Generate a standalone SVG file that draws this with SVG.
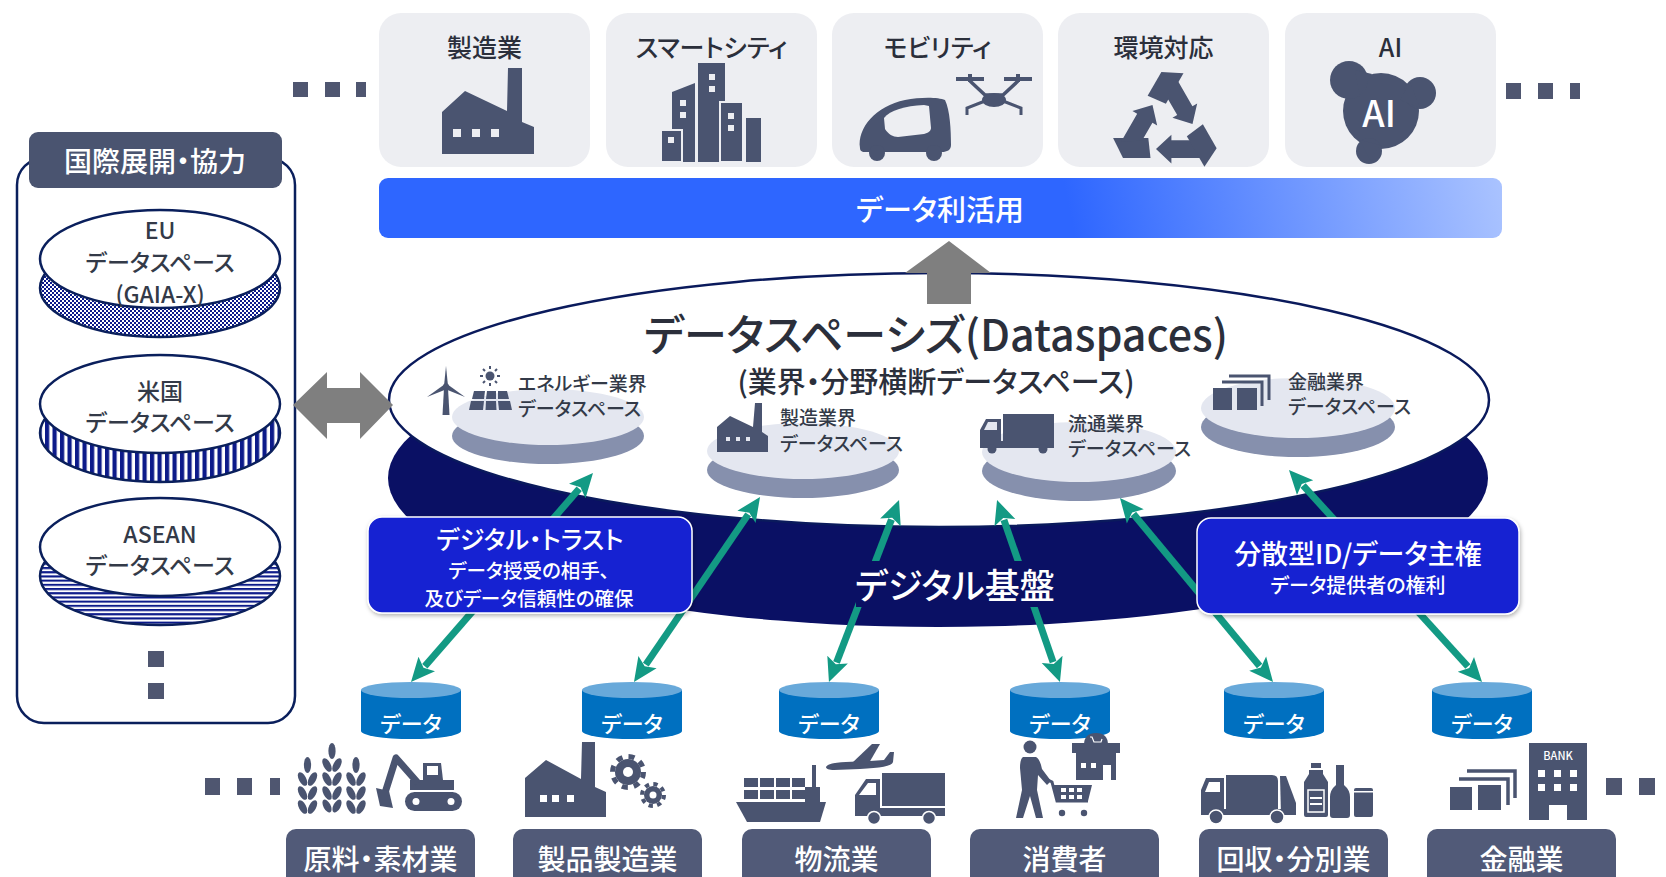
<svg xmlns="http://www.w3.org/2000/svg" width="1666" height="877" viewBox="0 0 1666 877">
<defs>
<style>
text{font-family:"Noto Sans CJK JP","Noto Sans",sans-serif;font-feature-settings:"palt";dominant-baseline:central;text-anchor:middle;font-weight:500}
.card{fill:#edeef2}
.ic{fill:#4a5470}
.ct{font-size:25px;fill:#2b2f3b}
.lbl{font-size:23px;fill:#333a48}
.dsl{font-size:19px;fill:#333a48;text-anchor:start}
.cat{fill:#515a78}
.catt{font-size:28px;fill:#fff}
.cyl{fill:#0070c0}
.cyltop{fill:#68a9da}
.cylt{font-size:22px;fill:#fff}
.dot{fill:#4f5670}
.ar{stroke:#139a84;stroke-width:7;fill:none;marker-start:url(#ah);marker-end:url(#ah)}
.box{fill:#1220d2;stroke:#fff;stroke-width:1.5;filter:url(#sh)}
.dtop{fill:#e4e7f0}
.dbot{fill:#8690ad}
.nv{stroke:#0a1f5c;stroke-width:2.5}
.bt{fill:#fff}
.win{fill:#edeef2}
.dw{fill:#e4e7f0}
</style>
<marker id="ah" viewBox="0 0 24 24" refX="3" refY="12" markerWidth="24" markerHeight="24" markerUnits="userSpaceOnUse" orient="auto-start-reverse">
<path d="M0,1 L24,12 L0,23 L5,12 Z" fill="#139a84"/>
</marker>
<filter id="sh" x="-10%" y="-10%" width="125%" height="135%">
<feDropShadow dx="1" dy="2" stdDeviation="2" flood-color="#000" flood-opacity="0.3"/>
</filter>
<linearGradient id="gb" gradientUnits="userSpaceOnUse" x1="1080" y1="260" x2="1500" y2="170">
<stop offset="0" stop-color="#2e66ff"/>
<stop offset="1" stop-color="#aac3ff"/>
</linearGradient>
<pattern id="pCheck" width="4" height="4" patternUnits="userSpaceOnUse">
<rect width="4" height="4" fill="#fff"/>
<rect width="2" height="2" fill="#0c1a8a"/>
<rect x="2" y="2" width="2" height="2" fill="#0c1a8a"/>
</pattern>
<pattern id="pVert" width="7.5" height="10" patternUnits="userSpaceOnUse">
<rect width="7.5" height="10" fill="#fff"/>
<rect width="4.2" height="10" fill="#0c1a8a"/>
</pattern>
<pattern id="pHorz" width="10" height="4.2" patternUnits="userSpaceOnUse">
<rect width="10" height="4.2" fill="#fff"/>
<rect width="10" height="2.1" fill="#0c1a8a"/>
</pattern>
<g id="stalk" class="ic">
<ellipse cx="0" cy="8" rx="3.6" ry="8"/>
<ellipse cx="-5" cy="22" rx="3.6" ry="7.5" transform="rotate(-28 -5 22)"/>
<ellipse cx="5" cy="22" rx="3.6" ry="7.5" transform="rotate(28 5 22)"/>
<ellipse cx="-5" cy="36" rx="3.6" ry="7.5" transform="rotate(-28 -5 36)"/>
<ellipse cx="5" cy="36" rx="3.6" ry="7.5" transform="rotate(28 5 36)"/>
<ellipse cx="-5" cy="50" rx="3.6" ry="7.5" transform="rotate(-28 -5 50)"/>
<ellipse cx="5" cy="50" rx="3.6" ry="7.5" transform="rotate(28 5 50)"/>
</g>
<g id="recy" class="ic">
<polygon points="-49,11 -17,11 -15,29 -40,29"/>
<polygon points="-10,21 4,8 4,13 23,13 33,29 4,29 4,34"/>
</g>
</defs>

<rect width="1666" height="877" fill="#fff"/>

<!-- top row: application domains -->
<g id="dots-top" class="dot">
<rect x="293" y="82" width="15" height="15"/><rect x="325" y="82" width="15" height="15"/><rect x="356" y="82" width="10" height="15"/>
<rect x="1506" y="83" width="15" height="16"/><rect x="1538" y="83" width="15" height="16"/><rect x="1570" y="83" width="10" height="16"/>
</g>

<g id="card-manufacturing">
<rect class="card" x="379" y="13" width="211" height="154" rx="22"/>
<text class="ct" x="484.5" y="46">製造業</text>
<path class="ic" d="M442,112 L465,91 L507,111 L508,68 L522,68 L522,122 L534,127 L534,154 L442,154 Z"/>
<rect class="win" x="453" y="129" width="8" height="8"/><rect class="win" x="472" y="129" width="8" height="8"/><rect class="win" x="491" y="129" width="8" height="8"/>
</g>

<g id="card-smartcity">
<rect class="card" x="606" y="13" width="211" height="154" rx="22"/>
<text class="ct" x="711.5" y="46">スマートシティ</text>
<polygon class="ic" points="672,92 695,83 695,162 672,162"/>
<rect class="ic" x="698" y="63" width="27" height="99"/>
<rect class="ic" x="720" y="102" width="23" height="60" stroke="#edeef2" stroke-width="2"/>
<rect class="ic" x="746" y="118" width="15" height="44"/>
<rect class="ic" x="661" y="130" width="21" height="32" stroke="#edeef2" stroke-width="2"/>
<rect class="win" x="709" y="74" width="6" height="6"/><rect class="win" x="709" y="86" width="6" height="6"/>
<rect class="win" x="680" y="100" width="6" height="6"/><rect class="win" x="680" y="112" width="6" height="6"/>
<rect class="win" x="728" y="113" width="6" height="6"/><rect class="win" x="728" y="125" width="6" height="6"/>
<rect class="win" x="668" y="137" width="6" height="6"/>
</g>

<g id="card-mobility">
<rect class="card" x="832" y="13" width="211" height="154" rx="22"/>
<text class="ct" x="937.5" y="46">モビリティ</text>
<path class="ic" d="M860,148 C857,128 876,106 905,100 C920,97 938,97 945,100 C950,110 951,130 951,145 C951,150 947,152 942,152 L865,152 C861,152 860,150 860,148 Z"/>
<circle class="ic" cx="877" cy="153" r="8"/><circle class="ic" cx="934" cy="153" r="8"/>
<path class="win" d="M884,118 C890,110 905,106 924,105 L929,106 L931,128 C931,131 928,133 924,134 L898,137 C893,137 888,134 885,129 Z"/>
<g class="ic">
<rect x="956" y="77" width="28" height="4"/><rect x="1004" y="77" width="28" height="4"/>
<rect x="968" y="74" width="4" height="8"/><rect x="1016" y="74" width="4" height="8"/>
<path d="M970,81 L985,95 L1003,95 L1018,81" fill="none" stroke="#4a5470" stroke-width="3.5"/>
<ellipse cx="994" cy="100" rx="12" ry="7"/>
<path d="M985,101 L967,108 L967,115 M1003,101 L1021,108 L1021,115" fill="none" stroke="#4a5470" stroke-width="3"/>
</g>
</g>

<g id="card-environment">
<rect class="card" x="1058" y="13" width="211" height="154" rx="22"/>
<text class="ct" x="1163.5" y="46">環境対応</text>
<use href="#recy" transform="translate(1167 126) scale(1.1)"/>
<use href="#recy" transform="translate(1167 126) scale(1.1) rotate(120)"/>
<use href="#recy" transform="translate(1167 126) scale(1.1) rotate(240)"/>
</g>

<g id="card-ai">
<rect class="card" x="1285" y="13" width="211" height="154" rx="22"/>
<text class="ct" x="1390.5" y="46">AI</text>
<g class="ic">
<circle cx="1381" cy="111" r="38"/>
<circle cx="1349" cy="80" r="19"/>
<circle cx="1420" cy="93" r="16"/>
<circle cx="1369" cy="151" r="13"/>
<path d="M1355,70 L1372,74 L1360,95 Z M1410,82 L1420,108 L1400,100 Z M1360,140 L1380,145 L1370,160 Z"/>
</g>
<text x="1379" y="111" font-size="36" font-weight="bold" fill="#fff">AI</text>
</g>

<g id="bar-utilization">
<rect x="379" y="178" width="1123" height="60" rx="9" fill="url(#gb)"/>
<text x="940" y="208" font-size="29" fill="#fff">データ利活用</text>
</g>

<!-- international cooperation panel -->
<g id="intl-panel">
<rect x="17" y="158" width="278" height="565" rx="27" fill="#fff" class="nv"/>
<rect x="29" y="132" width="253" height="56" rx="9" fill="#4a5470"/>
<text x="155" y="160" font-size="28" fill="#fff">国際展開・協力</text>
</g>
<g id="ds-eu">
<ellipse cx="160" cy="288" rx="120" ry="49" fill="url(#pCheck)" class="nv"/>
<ellipse cx="160" cy="259" rx="120" ry="49" fill="#fff" class="nv"/>
<text class="lbl" x="160" y="229">EU</text>
<text class="lbl" x="160" y="261">データスペース</text>
<text class="lbl" x="160" y="293">(GAIA-X)</text>
</g>
<g id="ds-us">
<ellipse cx="160" cy="433" rx="120" ry="49" fill="url(#pVert)" class="nv"/>
<ellipse cx="160" cy="404" rx="120" ry="49" fill="#fff" class="nv"/>
<text class="lbl" x="160" y="390">米国</text>
<text class="lbl" x="160" y="421">データスペース</text>
</g>
<g id="ds-asean">
<ellipse cx="160" cy="576" rx="120" ry="49" fill="url(#pHorz)" class="nv"/>
<ellipse cx="160" cy="547" rx="120" ry="49" fill="#fff" class="nv"/>
<text class="lbl" x="160" y="533">ASEAN</text>
<text class="lbl" x="160" y="564">データスペース</text>
</g>
<g id="dots-intl" class="dot">
<rect x="148" y="651" width="16" height="16"/><rect x="148" y="683" width="16" height="16"/>
</g>

<!-- digital foundation and dataspaces -->
<g id="digital-foundation">
<ellipse cx="938" cy="478" rx="550" ry="149" fill="#0a1064"/>
</g>
<g id="dataspaces">
<ellipse cx="939" cy="400" rx="550" ry="127" fill="#fff" stroke="#0a1a5c" stroke-width="2.5"/>
<text x="936" y="332" font-size="43" fill="#2b2f3b">データスペーシズ(Dataspaces)</text>
<text x="936" y="380" font-size="29" fill="#2b2f3b">(業界・分野横断データスペース)</text>
</g>

<g id="ds-energy">
<ellipse class="dbot" cx="548" cy="436" rx="96" ry="28"/>
<ellipse class="dtop" cx="548" cy="417" rx="96" ry="28"/>
<g class="ic">
<polygon points="444,388 448,388 449.5,415 442.5,415"/>
<polygon points="444,386 446,366 448,386"/>
<polygon points="445,384 427,397 447,389"/>
<polygon points="447,384 465,397 445,389"/>
<circle cx="446" cy="386" r="2.8"/>
<circle cx="490" cy="376" r="4.5"/>
<path d="M490,366 V369 M490,383 V386 M480,376 H483 M497,376 H500 M483,369 L485,371 M495,381 L497,383 M497,369 L495,371 M485,381 L483,383" stroke="#4a5470" stroke-width="2"/>
<polygon points="474,391 485,391 484,399 472,399"/>
<polygon points="487,391 496,391 496,399 486,399"/>
<polygon points="498,391 507,391 509,399 498,399"/>
<polygon points="471,401 484,401 483,410 469,410"/>
<polygon points="486,401 496,401 496.5,410 485.5,410"/>
<polygon points="498,401 510,401 512,410 499,410"/>
</g>
<text class="dsl" x="518" y="382">エネルギー業界</text>
<text class="dsl" x="518" y="407">データスペース</text>
</g>

<g id="ds-manufacturing">
<ellipse class="dbot" cx="803" cy="470" rx="96" ry="28"/>
<ellipse class="dtop" cx="803" cy="451" rx="96" ry="28"/>
<path class="ic" d="M717,427 L730,416 L753,427 L755,403 L762,403 L762,432 L768,436 L768,452 L717,452 Z"/>
<rect class="dw" x="726" y="437" width="4" height="4"/><rect class="dw" x="736" y="437" width="4" height="4"/><rect class="dw" x="746" y="437" width="4" height="4"/>
<text class="dsl" x="780" y="416">製造業界</text>
<text class="dsl" x="780" y="442">データスペース</text>
</g>

<g id="ds-logistics">
<ellipse class="dbot" cx="1079" cy="471" rx="97" ry="30"/>
<ellipse class="dtop" cx="1079" cy="452" rx="97" ry="30"/>
<g class="ic">
<rect x="1003" y="414" width="51" height="27"/>
<path d="M980,448 L980,430 L986,419 L1001,419 L1001,448 Z"/>
<rect x="980" y="441" width="74" height="7"/>
<circle cx="992" cy="449" r="4.5"/><circle cx="1043" cy="449" r="4.5"/>
</g>
<polygon class="dw" points="984,430 988,422 997,422 997,430"/>
<text class="dsl" x="1068" y="422">流通業界</text>
<text class="dsl" x="1068" y="447">データスペース</text>
</g>

<g id="ds-finance">
<ellipse class="dbot" cx="1298" cy="427" rx="97" ry="30"/>
<ellipse class="dtop" cx="1298" cy="408" rx="97" ry="30"/>
<g class="ic">
<rect x="1213" y="388" width="19" height="22"/>
<rect x="1237" y="388" width="20" height="22"/>
<path d="M1222,382 H1262 V406 M1229,376 H1269 V400" fill="none" stroke="#4a5470" stroke-width="3"/>
</g>
<text class="dsl" x="1288" y="380">金融業界</text>
<text class="dsl" x="1288" y="405">データスペース</text>
</g>

<!-- grey arrows -->
<g id="link-intl">
<polygon fill="#7f7f7f" points="293,405 327,372 327,388 360,388 360,372 393,405 360,439 360,423 327,423 327,439"/>
</g>
<g id="link-utilization">
<polygon fill="#7f7f7f" points="949,241 991,273 971,273 971,304 927,304 927,273 905,273"/>
</g>

<!-- data exchange connectors -->
<g id="connectors" class="ar">
<line x1="424.8" y1="666.2" x2="579.2" y2="488.8"/>
<line x1="645.8" y1="664.6" x2="748.2" y2="514.4"/>
<line x1="836.5" y1="662.4" x2="891.5" y2="519.6"/>
<line x1="1053.1" y1="662.2" x2="1003.9" y2="519.8"/>
<line x1="1259.6" y1="665.9" x2="1133.4" y2="514.1"/>
<line x1="1467.9" y1="666.5" x2="1303.1" y2="485.5"/>
</g>

<g id="label-foundation">
<rect x="856" y="561" width="198" height="46" fill="#0a1064"/>
<text x="955" y="583" font-size="35" fill="#fff">デジタル基盤</text>
</g>

<g id="box-trust">
<rect class="box" x="368" y="517" width="324" height="96" rx="14"/>
<text x="530" y="538" font-size="25" fill="#fff">デジタル・トラスト</text>
<text x="529" y="569" font-size="19.5" fill="#fff">データ授受の相手、</text>
<text x="529" y="597" font-size="19.5" fill="#fff">及びデータ信頼性の確保</text>
</g>
<g id="box-did">
<rect class="box" x="1197" y="518" width="322" height="96" rx="14"/>
<text x="1358" y="552" font-size="27" fill="#fff">分散型ID/データ主権</text>
<text x="1358" y="584" font-size="20" fill="#fff">データ提供者の権利</text>
</g>

<!-- data stores -->
<g id="data-1"><path class="cyl" d="M361,690 V731 A50,8 0 0 0 461,731 V690 Z"/><ellipse class="cyltop" cx="411" cy="690" rx="50" ry="8"/><text class="cylt" x="411" y="722">データ</text></g>
<g id="data-2"><path class="cyl" d="M582,690 V731 A50,8 0 0 0 682,731 V690 Z"/><ellipse class="cyltop" cx="632" cy="690" rx="50" ry="8"/><text class="cylt" x="632" y="722">データ</text></g>
<g id="data-3"><path class="cyl" d="M779,690 V731 A50,8 0 0 0 879,731 V690 Z"/><ellipse class="cyltop" cx="829" cy="690" rx="50" ry="8"/><text class="cylt" x="829" y="722">データ</text></g>
<g id="data-4"><path class="cyl" d="M1010,690 V731 A50,8 0 0 0 1110,731 V690 Z"/><ellipse class="cyltop" cx="1060" cy="690" rx="50" ry="8"/><text class="cylt" x="1060" y="722">データ</text></g>
<g id="data-5"><path class="cyl" d="M1224,690 V731 A50,8 0 0 0 1324,731 V690 Z"/><ellipse class="cyltop" cx="1274" cy="690" rx="50" ry="8"/><text class="cylt" x="1274" y="722">データ</text></g>
<g id="data-6"><path class="cyl" d="M1432,690 V731 A50,8 0 0 0 1532,731 V690 Z"/><ellipse class="cyltop" cx="1482" cy="690" rx="50" ry="8"/><text class="cylt" x="1482" y="722">データ</text></g>

<!-- industries -->
<g id="dots-bottom" class="dot">
<rect x="205" y="778" width="15" height="17"/><rect x="237" y="778" width="15" height="17"/><rect x="270" y="778" width="10" height="17"/>
<rect x="1606" y="778" width="16" height="17"/><rect x="1639" y="778" width="16" height="17"/>
</g>

<g id="ind-materials">
<use href="#stalk" x="307.5" y="757"/>
<use href="#stalk" x="332" y="743"/>
<use href="#stalk" x="356" y="757"/>
<g class="ic">
<ellipse cx="327" cy="806" rx="3.6" ry="7" transform="rotate(-28 327 806)"/>
<ellipse cx="337" cy="806" rx="3.6" ry="7" transform="rotate(28 337 806)"/>
<rect x="405" y="792" width="57" height="19" rx="9.5"/>
<rect x="410" y="780" width="44" height="10"/>
<path d="M423,780 L423,763 L441,763 L443,780 Z"/>
<polyline points="418,783 396,758 384,796" fill="none" stroke="#4a5470" stroke-width="7" stroke-linejoin="round"/>
<polygon points="376,788 389,791 393,808 380,806"/>
</g>
<rect class="bt" x="427" y="766" width="11" height="9"/>
<circle class="bt" cx="416" cy="801.5" r="3.5"/><circle class="bt" cx="451" cy="801.5" r="3.5"/>
<rect class="cat" x="286" y="829" width="189" height="60" rx="10"/>
<text class="catt" x="380.5" y="858">原料・素材業</text>
</g>

<g id="ind-products">
<path class="ic" d="M525,778 L546,760 L581,779 L582,742 L595,742 L595,787 L606,792 L606,817 L525,817 Z"/>
<rect class="bt" x="540" y="795" width="7" height="7"/><rect class="bt" x="552" y="795" width="7" height="7"/><rect class="bt" x="567" y="795" width="7" height="7"/>
<circle class="ic" cx="628" cy="772" r="13"/>
<circle cx="628" cy="772" r="15.5" fill="none" stroke="#4a5470" stroke-width="5" stroke-dasharray="6.09 6.09"/>
<circle class="bt" cx="628" cy="772" r="5"/>
<circle class="ic" cx="653" cy="795" r="9"/>
<circle cx="653" cy="795" r="11" fill="none" stroke="#4a5470" stroke-width="4" stroke-dasharray="4.32 4.32"/>
<circle class="bt" cx="653" cy="795" r="3.5"/>
<rect class="cat" x="513" y="829" width="189" height="60" rx="10"/>
<text class="catt" x="607.5" y="858">製品製造業</text>
</g>

<g id="ind-logistics">
<g class="ic">
<polygon points="736,802 826,802 820,822 747,822"/>
<rect x="812" y="765" width="4" height="37"/>
<rect x="805" y="787" width="15" height="15"/>
<rect x="744" y="778" width="14" height="9"/><rect x="760" y="778" width="14" height="9"/><rect x="776" y="778" width="14" height="9"/><rect x="792" y="778" width="13" height="9"/>
<rect x="744" y="790" width="14" height="9"/><rect x="760" y="790" width="14" height="9"/><rect x="776" y="790" width="14" height="9"/><rect x="792" y="790" width="13" height="9"/>
<path d="M826,767 C828,762 845,762 870,761 L884,760 L890,752 L894,752 L893,762 C892,766 880,768 860,769 L834,770 C829,770 826,769 826,767 Z"/>
<polygon points="852,763 872,744 880,744 869,763"/>
<rect x="882" y="773" width="63" height="33"/>
<path d="M855,816 L855,795 L866,779 L880,779 L880,816 Z"/>
<rect x="855" y="808" width="90" height="8"/>
<circle cx="874" cy="818" r="6.5" stroke="#fff" stroke-width="1.5"/><circle cx="929" cy="818" r="6.5" stroke="#fff" stroke-width="1.5"/>
</g>
<polygon class="bt" points="859,795 868,783 876,783 876,795"/>
<rect class="cat" x="742" y="829" width="189" height="60" rx="10"/>
<text class="catt" x="836.5" y="858">物流業</text>
</g>

<g id="ind-consumer">
<g class="ic">
<circle cx="1030" cy="747" r="6.5"/>
<path d="M1023,757 L1036,757 Q1040,759 1042,769 L1051,781 L1047,785 L1038,775 L1037,790 L1043,818 L1036,818 L1030,796 L1023,818 L1016,818 L1022,790 L1020,768 Q1020,759 1023,757 Z"/>
<path d="M1046,779 L1052,782 L1057,801 L1088,801" fill="none" stroke="#4a5470" stroke-width="3"/>
<polygon points="1053,785 1092,785 1088,801 1057,801"/>
<circle cx="1062" cy="813" r="3.2"/><circle cx="1084" cy="813" r="3.2"/>
<path d="M1084,745 Q1084,733 1096,733 Q1108,733 1108,745 Z"/>
<rect x="1072" y="743" width="48" height="10"/>
<rect x="1076" y="753" width="40" height="27"/>
</g>
<g class="bt">
<rect x="1061" y="788" width="5" height="4"/><rect x="1069" y="788" width="5" height="4"/><rect x="1077" y="788" width="5" height="4"/>
<rect x="1061" y="795" width="5" height="4"/><rect x="1069" y="795" width="5" height="4"/><rect x="1077" y="795" width="5" height="4"/>
<rect x="1081" y="763" width="5" height="5"/><rect x="1091" y="763" width="5" height="5"/>
<rect x="1103" y="765" width="8" height="15"/>
<path d="M1090,737 L1092,737 L1094,742 L1101,742 L1102,739" fill="none" stroke="#fff" stroke-width="1.2"/>
</g>
<rect class="cat" x="970" y="829" width="189" height="60" rx="10"/>
<text class="catt" x="1064.5" y="858">消費者</text>
</g>

<g id="ind-recycling">
<g class="ic">
<path d="M1201,813 L1201,790 L1206,778 L1224,778 L1224,813 Z"/>
<path d="M1226,775 L1272,775 Q1278,775 1278,781 L1278,813 L1226,813 Z"/>
<polygon points="1280,776 1286,776 1296,803 1296,815 1281,815"/>
<rect x="1201" y="809" width="95" height="6"/>
<circle cx="1216" cy="817" r="7" stroke="#fff" stroke-width="1.5"/><circle cx="1277" cy="817" r="7" stroke="#fff" stroke-width="1.5"/>
<rect x="1311" y="763" width="10" height="5"/>
<path d="M1309,770 L1323,770 L1323,774 L1328,782 L1328,815 Q1328,817 1326,817 L1306,817 Q1304,817 1304,815 L1304,782 L1309,774 Z"/>
<path d="M1336,765 L1344,765 L1344,785 Q1350,790 1350,797 L1350,815 Q1350,818 1347,818 L1333,818 Q1330,818 1330,815 L1330,797 Q1330,790 1336,785 Z"/>
<rect x="1354" y="788" width="19" height="29" rx="2"/>
</g>
<polygon class="bt" points="1205,792 1209,782 1220,782 1220,792"/>
<rect x="1308" y="790" width="16" height="22" fill="none" stroke="#fff" stroke-width="1.5"/>
<rect class="bt" x="1310" y="797" width="12" height="2"/><rect class="bt" x="1310" y="803" width="12" height="2"/>
<rect class="bt" x="1353" y="791" width="21" height="1.5"/>
<rect class="cat" x="1199" y="829" width="189" height="60" rx="10"/>
<text class="catt" x="1293.5" y="858">回収・分別業</text>
</g>

<g id="ind-finance">
<g class="ic">
<rect x="1450" y="787" width="22" height="23"/>
<rect x="1478" y="785" width="23" height="25"/>
<path d="M1459,779 H1508 V805 M1467,771 H1515 V798" fill="none" stroke="#4a5470" stroke-width="3.5"/>
<rect x="1529" y="743" width="58" height="77"/>
</g>
<text x="1558" y="755" font-size="11" font-weight="bold" fill="#fff" font-family="Liberation Sans, sans-serif">BANK</text>
<g class="bt">
<rect x="1538" y="770" width="7" height="7"/><rect x="1554" y="770" width="7" height="7"/><rect x="1570" y="770" width="7" height="7"/>
<rect x="1538" y="784" width="7" height="7"/><rect x="1554" y="784" width="7" height="7"/><rect x="1570" y="784" width="7" height="7"/>
<rect x="1549" y="805" width="18" height="15"/>
</g>
<rect class="cat" x="1427" y="829" width="189" height="60" rx="10"/>
<text class="catt" x="1521.5" y="858">金融業</text>
</g>
</svg>
